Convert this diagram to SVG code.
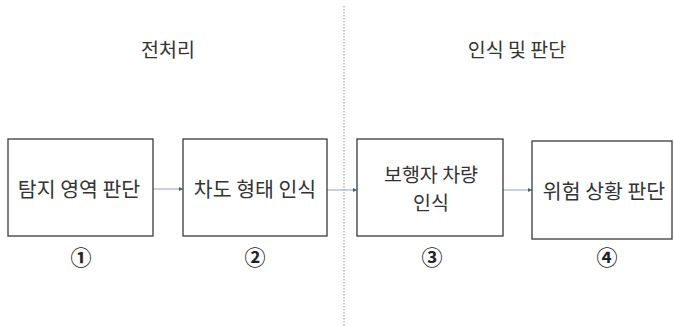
<svg xmlns="http://www.w3.org/2000/svg" width="674" height="326" viewBox="0 0 674 326">
<defs>
<style>
.box{fill:#fff;stroke:#3a3a3a;stroke-width:1.3}
.t{font-family:"Noto Sans CJK KR","Noto Sans",sans-serif;font-size:20.5px;fill:#333;text-anchor:middle}
.t2{font-family:"Noto Sans CJK KR","Noto Sans",sans-serif;font-size:19.5px;fill:#333;text-anchor:middle}
.h{font-family:"Noto Sans CJK KR","Noto Sans",sans-serif;font-size:19.5px;fill:#333;text-anchor:middle}
.n{font-family:"Noto Sans CJK KR","Noto Sans",sans-serif;font-size:21px;font-weight:bold;fill:#222;text-anchor:middle}
.c{stroke:#8fa4c4;stroke-width:1;fill:none;marker-end:url(#ah)}
</style>
<marker id="ah" viewBox="0 0 6 6" refX="6" refY="3" markerWidth="4" markerHeight="4" orient="auto" markerUnits="strokeWidth">
<path d="M0,0 L6,3 L0,6 z" fill="#4a5a8a"/>
</marker>
</defs>
<rect width="674" height="326" fill="#fff"/>
<line x1="344" y1="6" x2="344" y2="326" stroke="#aaa" stroke-width="1.2" stroke-dasharray="1.5,1.5"/>
<text class="h" x="168" y="57">전처리</text>
<text class="h" x="517" y="57">인식 및 판단</text>
<g id="connectors">
<line class="c" x1="153" y1="189" x2="183" y2="189"/>
<line class="c" x1="327" y1="190" x2="357" y2="190"/>
<line class="c" x1="503" y1="190" x2="532" y2="190"/>
</g>
<g id="n1">
<rect class="box" x="8" y="139" width="145" height="97"/>
<text class="t" x="79" y="197">탐지 영역 판단</text>
<text class="n" x="81" y="265">①</text>
</g>
<g id="n2">
<rect class="box" x="183" y="139" width="144" height="97"/>
<text class="t" x="255" y="197">차도 형태 인식</text>
<text class="n" x="255" y="265">②</text>
</g>
<g id="n3">
<rect class="box" x="357" y="139" width="146" height="97"/>
<text class="t2" x="431" y="182">보행자 차량</text>
<text class="t2" x="431" y="210">인식</text>
<text class="n" x="432" y="265">③</text>
</g>
<g id="n4">
<rect class="box" x="532" y="141" width="140" height="98"/>
<text class="t" x="604" y="199">위험 상황 판단</text>
<text class="n" x="607" y="265">④</text>
</g>
</svg>
